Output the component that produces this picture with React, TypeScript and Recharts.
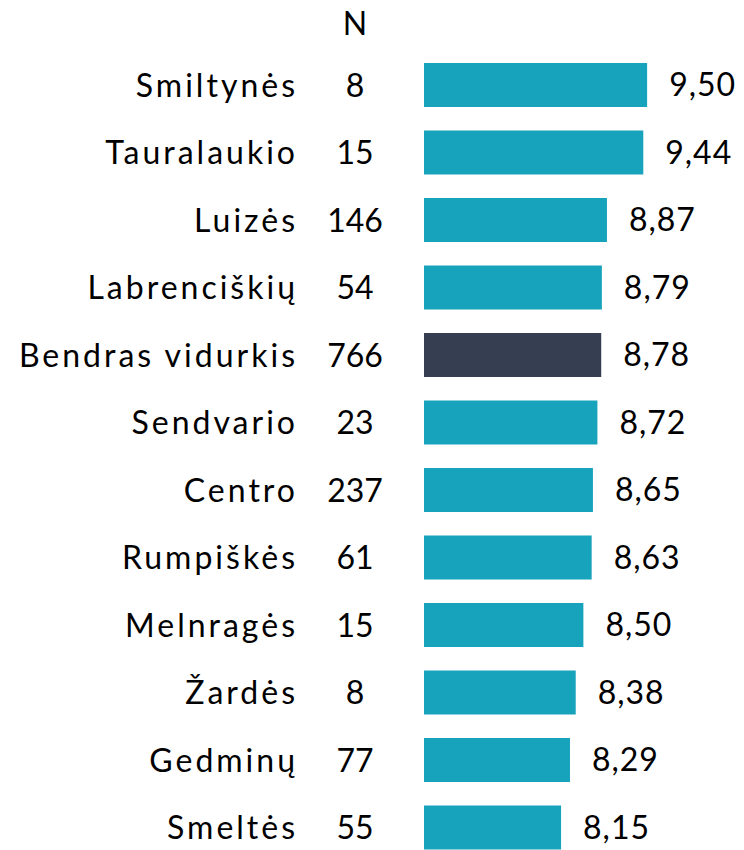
import { BarChart, Bar, XAxis, YAxis, Cell, LabelList } from 'recharts';

const districts = [
  'Smiltynės',
  'Tauralaukio',
  'Luizės',
  'Labrenciškių',
  'Bendras vidurkis',
  'Sendvario',
  'Centro',
  'Rumpiškės',
  'Melnragės',
  'Žardės',
  'Gedminų',
  'Smeltės',
];
const counts = [8, 15, 146, 54, 766, 23, 237, 61, 15, 8, 77, 55];
const scores = [9.5, 9.44, 8.87, 8.79, 8.78, 8.72, 8.65, 8.63, 8.5, 8.38, 8.29, 8.15];
const averageLabel = 'Bendras vidurkis';

const TEAL = '#17a3bc';
const DARK = '#353f51';
const FONT = 'Lato, "Open Sans", sans-serif';

const data = districts.map((name, i) => ({ name, n: counts[i], score: scores[i] }));

function CategoryTick({ y, payload, index }: any) {
  const row = data[index];
  return (
    <g>
      <text x={298} y={y} dy={12} textAnchor="end" fontSize={32} letterSpacing={3} fill="#000" fontFamily={FONT}>
        {payload.value}
      </text>
      <text x={355} y={y} dy={12} textAnchor="middle" fontSize={32} fill="#000" fontFamily={FONT}>
        {row ? row.n : ''}
      </text>
    </g>
  );
}

export default function App() {
  return (
    <div style={{ position: 'absolute', left: 0, top: 0, width: 744, height: 850, overflow: 'hidden', background: '#fff' }}>
      <div
        style={{
          position: 'absolute',
          left: 355,
          top: 22,
          transform: 'translate(-50%, -50%)',
          fontFamily: FONT,
          fontSize: 32,
          color: '#000',
        }}
      >
        N
      </div>
      <BarChart
        width={744}
        height={861}
        data={data}
        layout="vertical"
        margin={{ top: 51, right: 65, bottom: 0, left: 0 }}
        barSize={44}
      >
        <XAxis type="number" domain={[6, 10]} hide allowDataOverflow />
        <YAxis
          type="category"
          dataKey="name"
          width={424}
          axisLine={false}
          tickLine={false}
          interval={0}
          tick={<CategoryTick />}
        />
        <Bar dataKey="score" isAnimationActive={false}>
          {data.map((d) => (
            <Cell key={d.name} fill={d.name === averageLabel ? DARK : TEAL} />
          ))}
          <LabelList
            dataKey="score"
            position="right"
            offset={22}
            formatter={(v: any) => Number(v).toFixed(2).replace('.', ',')}
            style={{ fontSize: 32, fill: '#000', fontFamily: FONT, letterSpacing: 1 }}
          />
        </Bar>
      </BarChart>
    </div>
  );
}
